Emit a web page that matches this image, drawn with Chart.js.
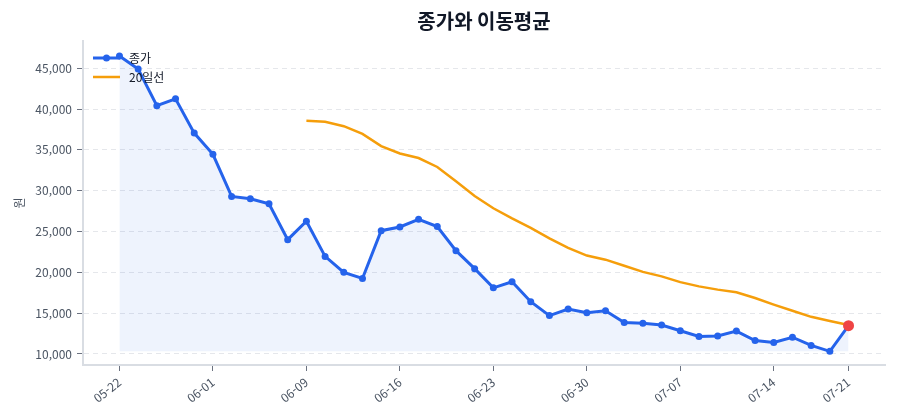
<!DOCTYPE html>
<html lang="ko">
<head>
<meta charset="utf-8">
<script src="https://cdn.jsdelivr.net/npm/chart.js@4.4.1/dist/chart.umd.min.js"></script>
<style>
  html, body { margin: 0; padding: 0; background: #ffffff; }
  #wrap { width: 900px; height: 420px; }
</style>
</head>
<body>
<div id="wrap"><canvas id="chart"></canvas></div>
<script>
// trading dates (MM-DD)
const dates = [
  "05-22", "05-23", "05-26", "05-27", "05-29", "06-01", "06-02", "06-04", "06-05", "06-06",
  "06-09", "06-10", "06-11", "06-12", "06-13", "06-16", "06-17", "06-18", "06-19", "06-20",
  "06-23", "06-24", "06-25", "06-26", "06-27", "06-30", "07-01", "07-02", "07-03", "07-04",
  "07-07", "07-08", "07-09", "07-10", "07-11", "07-14", "07-15", "07-16", "07-17", "07-21"
];

// closing price (원)
const closePrice = [
  46500, 44900, 40400, 41250, 37050, 34450, 29300, 29000, 28400, 24000,
  26250, 21950, 20000, 19250, 25100, 25550, 26500, 25600, 22650, 20450,
  18100, 18850, 16400, 14700, 15500, 15050, 15300, 13850, 13750, 13550,
  12850, 12150, 12200, 12800, 11650, 11400, 12050, 11050, 10320, 13460
];

// 20-day moving average
const ma20 = [
  null, null, null, null, null, null, null, null, null, null,
  38550, 38450, 37900, 36950, 35450, 34550, 34000, 32900, 31150, 29350,
  27850, 26600, 25450, 24150, 23000, 22050, 21550, 20800, 20050, 19500,
  18800, 18280, 17880, 17550, 16850, 16050, 15300, 14550, 14050, 13550
];

// which dates get a tick label
const tickIndex = [0, 5, 10, 15, 20, 25, 30, 35, 39];

const yTicks = [10000, 15000, 20000, 25000, 30000, 35000, 40000, 45000];

const FONT = "'Noto Sans CJK KR', 'Noto Sans', sans-serif";
const lastIdx = closePrice.length - 1;
const fillBase = Math.min(...closePrice);

// legend drawn inside the plot, top-left, like the original
const innerLegend = {
  id: 'innerLegend',
  afterDraw(chart) {
    const { ctx, chartArea } = chart;
    const x0 = chartArea.left + 10;
    const x1 = chartArea.left + 37;
    const items = [
      { label: '종가', color: '#2563eb', width: 3, marker: true, y: chartArea.top + 17 },
      { label: '20일선', color: '#f59e0b', width: 2.5, marker: false, y: chartArea.top + 36 }
    ];
    ctx.save();
    items.forEach((it) => {
      ctx.strokeStyle = it.color;
      ctx.lineWidth = it.width;
      ctx.beginPath();
      ctx.moveTo(x0, it.y);
      ctx.lineTo(x1, it.y);
      ctx.stroke();
      if (it.marker) {
        ctx.fillStyle = it.color;
        ctx.beginPath();
        ctx.arc((x0 + x1) / 2, it.y, 3.5, 0, Math.PI * 2);
        ctx.fill();
      }
      ctx.fillStyle = '#111827';
      ctx.font = "12px " + FONT;
      ctx.textBaseline = 'middle';
      ctx.textAlign = 'left';
      ctx.fillText(it.label, x1 + 9, it.y);
    });
    ctx.restore();
  }
};

const ctx = document.getElementById('chart').getContext('2d');
new Chart(ctx, {
  type: 'line',
  data: {
    datasets: [
      {
        label: '종가',
        data: closePrice.map((v, i) => ({ x: i, y: v })),
        borderColor: '#2563eb',
        borderWidth: 3,
        backgroundColor: 'rgba(37, 99, 235, 0.08)',
        fill: { value: fillBase },
        tension: 0,
        pointRadius: (c) => (c.dataIndex === lastIdx ? 5.5 : 3.5),
        pointBackgroundColor: (c) => (c.dataIndex === lastIdx ? '#ef4444' : '#2563eb'),
        pointBorderWidth: 0,
        order: 1
      },
      {
        label: '20일선',
        data: ma20.map((v, i) => ({ x: i, y: v })),
        borderColor: '#f59e0b',
        borderWidth: 2.5,
        pointRadius: 0,
        fill: false,
        tension: 0,
        spanGaps: false,
        order: 2
      }
    ]
  },
  options: {
    responsive: true,
    maintainAspectRatio: false,
    animation: false,
    layout: { padding: { left: 0, right: 15, top: 0, bottom: 0 } },
    plugins: {
      legend: { display: false },
      tooltip: { enabled: false },
      title: {
        display: true,
        text: '종가와 이동평균',
        fullSize: false,
        color: '#111827',
        font: { family: FONT, size: 20, weight: 'bold' },
        padding: { top: 9, bottom: 8 }
      }
    },
    scales: {
      x: {
        type: 'linear',
        min: -1.95,
        max: 40.95,
        afterBuildTicks: (scale) => {
          scale.ticks = tickIndex.map((v) => ({ value: v }));
        },
        afterFit: (scale) => { scale.height = 55; },
        grid: {
          display: true,
          drawOnChartArea: false,
          drawTicks: true,
          tickLength: 6,
          tickColor: '#6b7280',
          tickWidth: 1
        },
        border: { display: true, color: '#d9dde3', width: 2 },
        ticks: {
          autoSkip: false,
          maxRotation: 38,
          minRotation: 38,
          padding: 4,
          color: '#4b5563',
          font: { family: FONT, size: 12 },
          callback: (v) => dates[v]
        }
      },
      y: {
        type: 'linear',
        min: 8650,
        max: 48330,
        afterBuildTicks: (scale) => {
          scale.ticks = yTicks.map((v) => ({ value: v }));
        },
        afterFit: (scale) => { scale.width = 83; },
        title: {
          display: true,
          text: '원',
          color: '#4b5563',
          font: { family: FONT, size: 12 },
          padding: { top: 12, bottom: 0 }
        },
        grid: {
          color: '#e5e7eb',
          lineWidth: 1,
          tickColor: '#6b7280',
          tickLength: 6,
          tickBorderDash: []
        },
        border: { display: true, color: '#d9dde3', width: 2, dash: [5, 4] },
        ticks: {
          padding: 5,
          color: '#4b5563',
          font: { family: FONT, size: 12 },
          callback: (v) => v.toLocaleString('en-US')
        }
      }
    }
  },
  plugins: [innerLegend]
});
</script>
</body>
</html>
